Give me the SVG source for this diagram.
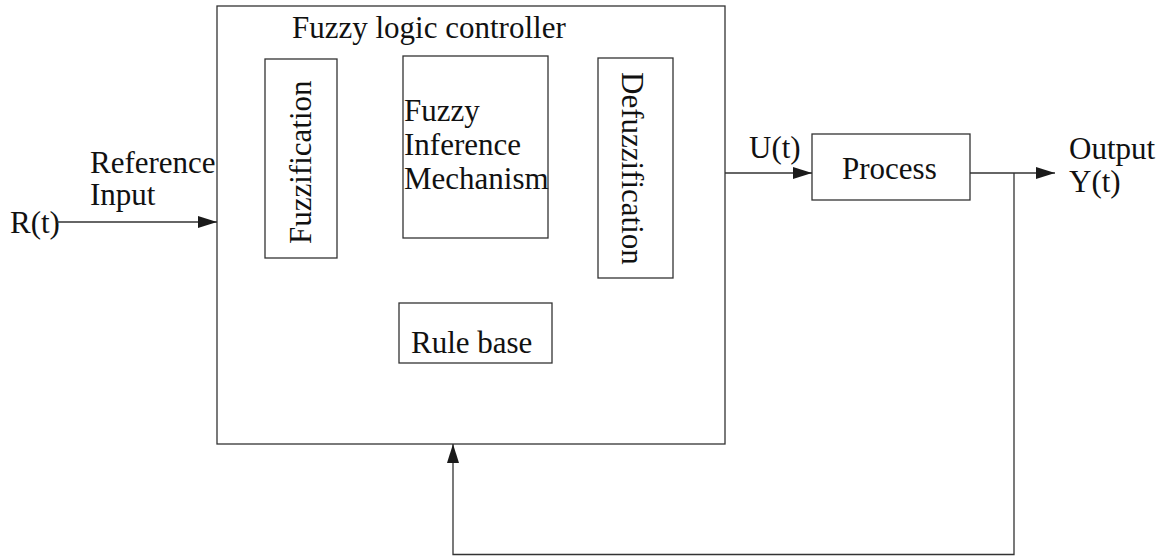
<svg xmlns="http://www.w3.org/2000/svg" width="1165" height="556" viewBox="0 0 1165 556">
  <style>
    .box { fill: #ffffff; stroke: #333333; stroke-width: 1.3; }
    .wire { fill: none; stroke: #333333; stroke-width: 1.3; }
    .lbl { font-family: "Liberation Serif", "Times New Roman", serif; font-size: 31px; fill: #111111; }
  </style>
  <defs>
    <marker id="arrow" viewBox="0 0 19 12" refX="19" refY="6" markerWidth="19" markerHeight="12" markerUnits="userSpaceOnUse" orient="auto">
      <path d="M0,0 L19,6 L0,12 Z" fill="#1a1a1a"/>
    </marker>
  </defs>
  <rect width="1165" height="556" fill="#ffffff"/>

  <!-- controller enclosure -->
  <g id="controller">
    <rect class="box" x="217" y="6" width="508" height="438"/>
    <text class="lbl" x="292" y="38">Fuzzy logic controller</text>
  </g>

  <g id="fuzzification">
    <rect class="box" x="265" y="59" width="72" height="199"/>
    <text class="lbl" transform="translate(311,244) rotate(-90)">Fuzzification</text>
  </g>

  <g id="inference">
    <rect class="box" x="403" y="56" width="145" height="182"/>
    <text class="lbl" x="404" y="121">Fuzzy</text>
    <text class="lbl" x="404" y="155">Inference</text>
    <text class="lbl" x="404" y="189">Mechanism</text>
  </g>

  <g id="defuzzification">
    <rect class="box" x="598" y="58" width="75" height="220"/>
    <text class="lbl" transform="translate(622,72) rotate(90)">Defuzzification</text>
  </g>

  <g id="rulebase">
    <rect class="box" x="399" y="303" width="153" height="60"/>
    <text class="lbl" x="411" y="353">Rule base</text>
  </g>

  <g id="process">
    <rect class="box" x="812" y="134" width="158" height="66"/>
    <text class="lbl" x="842" y="179">Process</text>
  </g>

  <!-- signal labels -->
  <g id="labels">
    <text class="lbl" x="90" y="173">Reference</text>
    <text class="lbl" x="90" y="205">Input</text>
    <text class="lbl" x="10" y="233">R(t)</text>
    <text class="lbl" x="749" y="158">U(t)</text>
    <text class="lbl" x="1069" y="159">Output</text>
    <text class="lbl" x="1069" y="192">Y(t)</text>
  </g>

  <g id="connectors">
    <line class="wire" x1="57" y1="222" x2="217" y2="222" marker-end="url(#arrow)"/>
    <line class="wire" x1="725" y1="173" x2="812" y2="173" marker-end="url(#arrow)"/>
    <line class="wire" x1="970" y1="173" x2="1055" y2="173" marker-end="url(#arrow)"/>
    <polyline class="wire" points="1014,173 1014,554.5 453,554.5 453,444" marker-end="url(#arrow)"/>
  </g>
</svg>
